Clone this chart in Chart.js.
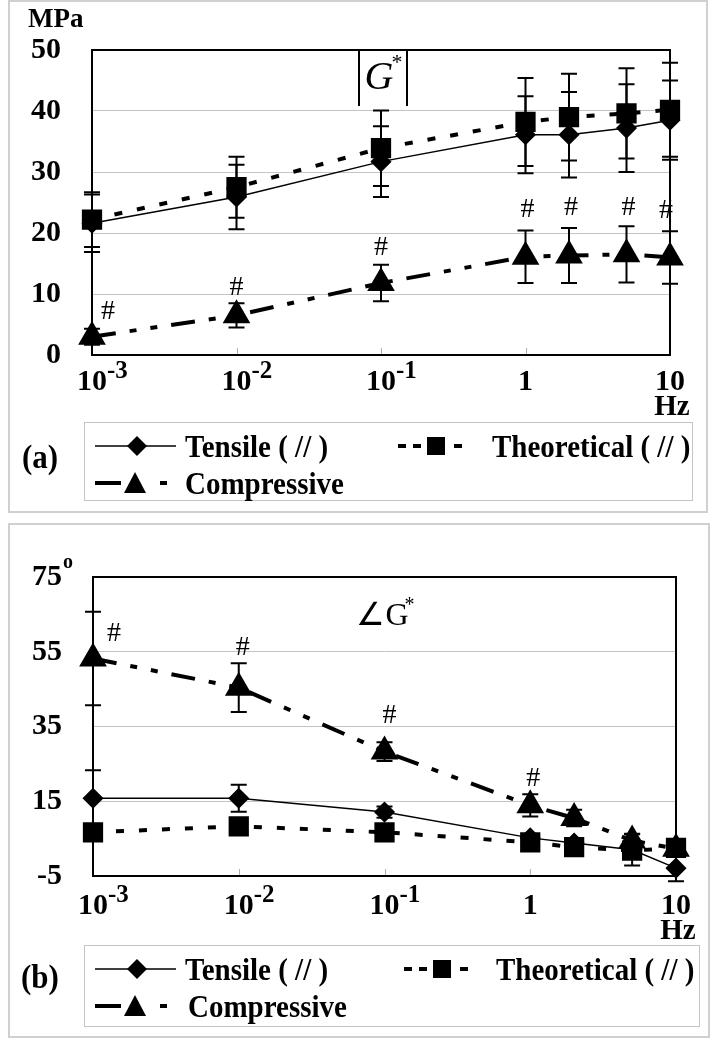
<!DOCTYPE html>
<html>
<head>
<meta charset="utf-8">
<script src="https://cdn.jsdelivr.net/npm/chart.js@4/dist/chart.umd.min.js"></script>
<style>
body{margin:0;background:#fff;width:723px;height:1050px;position:relative;overflow:hidden;font-family:"Liberation Serif","Times New Roman",serif}
.panel{position:absolute;border:2px solid #d0d0d0;box-sizing:border-box}
canvas{position:absolute;left:0}
.legend{position:absolute;border:1.5px solid #c4c4c4;box-sizing:border-box;background:#fff}
.legend span{position:absolute;font-weight:bold;font-size:29px;line-height:30px;white-space:nowrap;transform:translateY(-50%) scaleY(1.08)}
.tag{position:absolute;font-weight:bold;font-size:31px;line-height:32px;transform:translateY(-50%) scaleY(1.08)}
</style>
</head>
<body>
<div class="panel" style="left:8px;top:0;width:700px;height:513px"></div>
<div class="panel" style="left:8px;top:523px;width:702px;height:515px"></div>
<canvas id="chartA" width="723" height="513" style="top:0"></canvas>
<canvas id="chartB" width="723" height="537" style="top:513px"></canvas>
<div class="tag" style="left:22px;top:457px">(a)</div>
<div class="tag" style="left:21px;top:977px">(b)</div>
<div id="legendA" class="legend" style="left:84px;top:422px;width:609px;height:79px"></div>
<div id="legendB" class="legend" style="left:84px;top:945px;width:616px;height:82px"></div>
<script>
// ------------------ DATA ------------------
const freqs = [0.001, 0.01, 0.1, 1, 2, 5, 10];   // Hz
const xTickValues = [0.001, 0.01, 0.1, 1, 10];
const xTickBase = ['10', '10', '10', '1', '10'];
const xTickExp = ['-3', '-2', '-1', '', ''];
const seriesNames = ['Tensile ( // )', 'Theoretical ( // )', 'Compressive'];

// (a) |G*|  MPa
const tensileA = [21.6, 25.9, 31.7, 36.1, 36.1, 37.2, 38.5];
const tensileErrA = [4.7, 5.3, 5.8, 6.3, 7.0, 7.2, 6.5];
const theoreticalA = [22.2, 27.5, 33.9, 38.2, 39.0, 39.6, 40.2];
const theoreticalErrA = [4.5, 5.0, 6.2, 7.2, 7.1, 7.4, 7.7];
const compressiveA = [3.0, 6.5, 11.8, 16.1, 16.3, 16.5, 16.0];
const compressiveErrA = [1.3, 2.0, 3.0, 4.3, 4.5, 4.6, 4.3];
const hashA = [true, true, true, true, true, true, true];

// (b) phase angle  degrees
const tensileB = [15.8, 15.8, 12.1, 5.2, 3.8, 2.0, -2.9];
const tensileErrB = [7.5, 3.6, 1.5, 1.0, 1.0, 4.2, 3.5];
const theoreticalB = [6.7, 8.3, 6.7, 4.0, 2.7, 1.8, 2.5];
const theoreticalErrB = [1.2, 1.2, 1.2, 0.8, 0.8, 0.8, 0.8];
const compressiveB = [53.2, 45.4, 28.3, 13.9, 10.5, 4.5, 2.3];
const compressiveErrB = [12.5, 6.5, 2.5, 3.0, 2.2, 1.8, 1.8];
const hashB = [true, true, true, true, false, false, false];

const FONT = '"Liberation Serif", "Times New Roman", serif';

function pts(vals){
    return freqs.map((f,i)=>({x:f, y:vals[i]}));
}

// ------------------ EXTRAS PLUGIN ------------------
const extras = {
    id:'extras',
    beforeDatasetsDraw(chart, args, o){
        const ctx = chart.ctx, a = chart.chartArea, xs = chart.scales.x;
        ctx.save();
        // small decade marks on the bottom axis
        ctx.strokeStyle = '#b0b0b0';
        ctx.lineWidth = 1;
        xTickValues.slice(1,-1).forEach(v=>{
            const px = Math.round(xs.getPixelForValue(v)) + 0.5;
            ctx.beginPath(); ctx.moveTo(px, a.bottom); ctx.lineTo(px, a.bottom-7); ctx.stroke();
        });
        // plot frame
        ctx.strokeStyle = '#000';
        ctx.lineWidth = 2;
        ctx.strokeRect(a.left, a.top, a.right-a.left, a.bottom-a.top);
        ctx.restore();
    },
    afterDatasetsDraw(chart, args, o){
        const ctx = chart.ctx, ys = chart.scales.y;
        ctx.save();
        ctx.strokeStyle = '#000';
        ctx.lineWidth = 2;
        chart.data.datasets.forEach((ds, i)=>{
            const err = o.errors[i];
            const meta = chart.getDatasetMeta(i);
            ds.data.forEach((p, j)=>{
                const px = meta.data[j].x;
                const y1 = ys.getPixelForValue(p.y + err[j]);
                const y2 = ys.getPixelForValue(p.y - err[j]);
                ctx.beginPath();
                ctx.moveTo(px, y1); ctx.lineTo(px, y2);
                ctx.moveTo(px-8, y1); ctx.lineTo(px+8, y1);
                ctx.moveTo(px-8, y2); ctx.lineTo(px+8, y2);
                ctx.stroke();
            });
        });
        // significance marks above compressive points
        const ci = 2, cds = chart.data.datasets[ci], cmeta = chart.getDatasetMeta(ci);
        ctx.fillStyle = '#000';
        ctx.font = '28px ' + FONT;
        ctx.textAlign = 'center';
        ctx.textBaseline = 'middle';
        cds.data.forEach((p, j)=>{
            if(!o.hash[j]) return;
            const cap = ys.getPixelForValue(p.y + o.errors[ci][j]);
            ctx.fillText('#', cmeta.data[j].x + o.hashDx[j], cap + o.hashDy[j]);
        });
        ctx.restore();
    },
    afterDraw(chart, args, o){
        const ctx = chart.ctx, a = chart.chartArea, xs = chart.scales.x;
        ctx.save();
        ctx.fillStyle = '#000';
        ctx.textBaseline = 'middle';
        // x tick labels with superscript exponent
        xTickValues.forEach((v,i)=>{
            const px = xs.getPixelForValue(v);
            const ly = a.bottom + o.labelGap;
            ctx.font = 'bold 30px ' + FONT;
            ctx.textAlign = 'center';
            ctx.fillText(xTickBase[i], px, ly);
            if(xTickExp[i]){
                const w = ctx.measureText(xTickBase[i]).width;
                ctx.font = 'bold 25px ' + FONT;
                ctx.textAlign = 'left';
                ctx.fillText(xTickExp[i], px + w/2, ly - 10);
            }
        });
        ctx.font = 'bold 29px ' + FONT;
        ctx.textAlign = 'center';
        ctx.fillText('Hz', a.right + 2, a.bottom + o.labelGap + 26);
        // unit label
        if(o.unit){
            ctx.textAlign = 'left';
            ctx.font = 'bold 27px ' + FONT;
            ctx.fillText(o.unit, 28, 20);
        }
        if(o.degree){
            const ys = chart.scales.y;
            ctx.textAlign = 'left';
            ctx.font = 'bold 20px ' + FONT;
            ctx.fillText('o', 63, ys.getPixelForValue(ys.max) - 14);
        }
        // title
        const cx = (a.left + a.right)/2 + 2;
        if(o.title === 'mod'){
            ctx.font = 'italic 40px ' + FONT;
            ctx.textAlign = 'center';
            ctx.fillText('G', cx - 4, 78);
            ctx.font = '22px ' + FONT;
            ctx.fillText('*', cx + 14, 63);
            ctx.lineWidth = 2;
            ctx.beginPath();
            ctx.moveTo(cx - 24, a.top); ctx.lineTo(cx - 24, a.top + 56);
            ctx.moveTo(cx + 24, a.top); ctx.lineTo(cx + 24, a.top + 56);
            ctx.stroke();
        } else {
            ctx.font = '32px ' + FONT;
            ctx.textAlign = 'center';
            ctx.fillText('\u2220G', cx - 4, a.top + 40);
            ctx.font = '20px ' + FONT;
            ctx.fillText('*', cx + 23, a.top + 29);
        }
        ctx.restore();
    }
};

// ------------------ CHART BUILDER ------------------
function makeChart(id, vals, errs, yOpt, pad, xHeight, extraOpt){
    const tickFont = {family:FONT, weight:'bold', size:30};
    return new Chart(document.getElementById(id), {
        type:'line',
        data:{
            datasets:[
                {label:seriesNames[0], data:pts(vals[0]), borderColor:'#000', backgroundColor:'#000', borderWidth:1.5,
                 pointStyle:'rectRot', pointRadius:9.5, clip:false},
                {label:seriesNames[1], data:pts(vals[1]), borderColor:'#000', backgroundColor:'#000', borderWidth:4,
                 borderDash:[8,15], pointStyle:'rect', pointRadius:11.5, clip:false},
                {label:seriesNames[2], data:pts(vals[2]), borderColor:'#000', backgroundColor:'#000', borderWidth:4,
                 borderDash:[24,14,7,14,7,14], pointStyle:'triangle', pointRadius:12, clip:false}
            ]
        },
        options:{
            responsive:false,
            animation:false,
            layout:{padding:pad},
            plugins:{
                legend:{display:false},
                tooltip:{enabled:false},
                extras:Object.assign({errors:errs}, extraOpt)
            },
            scales:{
                x:{
                    type:'logarithmic', min:0.001, max:10,
                    afterBuildTicks:s=>{ s.ticks = xTickValues.map(v=>({value:v})); },
                    ticks:{display:false},
                    grid:{display:false},
                    border:{display:false},
                    afterFit:s=>{ s.height = xHeight; }
                },
                y:{
                    min:yOpt.min, max:yOpt.max,
                    ticks:{stepSize:yOpt.step, color:'#000', font:tickFont, padding:31},
                    grid:{
                        color:c=>(c.tick.value===yOpt.min || c.tick.value===yOpt.max) ? 'rgba(0,0,0,0)' : '#c4c4c4',
                        lineWidth:1, drawTicks:false
                    },
                    border:{display:false},
                    afterFit:s=>{ s.width = 84; }
                }
            }
        },
        plugins:[extras]
    });
}

makeChart('chartA',
    [tensileA, theoreticalA, compressiveA],
    [tensileErrA, theoreticalErrA, compressiveErrA],
    {min:0, max:50, step:10},
    {left:8, right:53, top:50, bottom:0}, 158,
    {hash:hashA, hashDx:[16,0,0,2,2,2,-4], hashDy:[-17,-16,-17,-21,-20,-19,-21],
     labelGap:27, unit:'MPa', title:'mod'});

makeChart('chartB',
    [tensileB, theoreticalB, compressiveB],
    [tensileErrB, theoreticalErrB, compressiveErrB],
    {min:-5, max:75, step:20},
    {left:9, right:47, top:64, bottom:0}, 174,
    {hash:hashB, hashDx:[21,4,5,3,0,0,0], hashDy:[22,-16,-27,-16,0,0,0],
     labelGap:30, degree:true, title:'angle'});

// ------------------ LEGENDS ------------------
function buildLegend(id, w, theoX, theoText, compText){
    const el = document.getElementById(id);
    const t = theoX;
    el.innerHTML =
        `<svg width="${w}" height="80" style="position:absolute;left:0;top:0">
          <line x1="10" y1="23" x2="91" y2="23" stroke="#000" stroke-width="1.5"/>
          <polygon points="52,13 62,23 52,33 42,23" fill="#000"/>
          <line x1="${t}" y1="23" x2="${t+8}" y2="23" stroke="#000" stroke-width="4"/>
          <line x1="${t+15}" y1="23" x2="${t+23}" y2="23" stroke="#000" stroke-width="4"/>
          <rect x="${t+29}" y="14" width="18" height="18" fill="#000"/>
          <line x1="${t+56}" y1="23" x2="${t+64}" y2="23" stroke="#000" stroke-width="4"/>
          <line x1="10" y1="60" x2="36" y2="60" stroke="#000" stroke-width="4"/>
          <polygon points="50,49 61,70 39,70" fill="#000"/>
          <line x1="75" y1="60" x2="82" y2="60" stroke="#000" stroke-width="4"/>
        </svg>
        <span style="left:100px;top:23px">${seriesNames[0]}</span>
        <span style="left:${theoText}px;top:23px">${seriesNames[1]}</span>
        <span style="left:${compText}px;top:60px">${seriesNames[2]}</span>`;
}
buildLegend('legendA', 609, 313, 407, 100);
buildLegend('legendB', 616, 319, 411, 103);
</script>
</body>
</html>
